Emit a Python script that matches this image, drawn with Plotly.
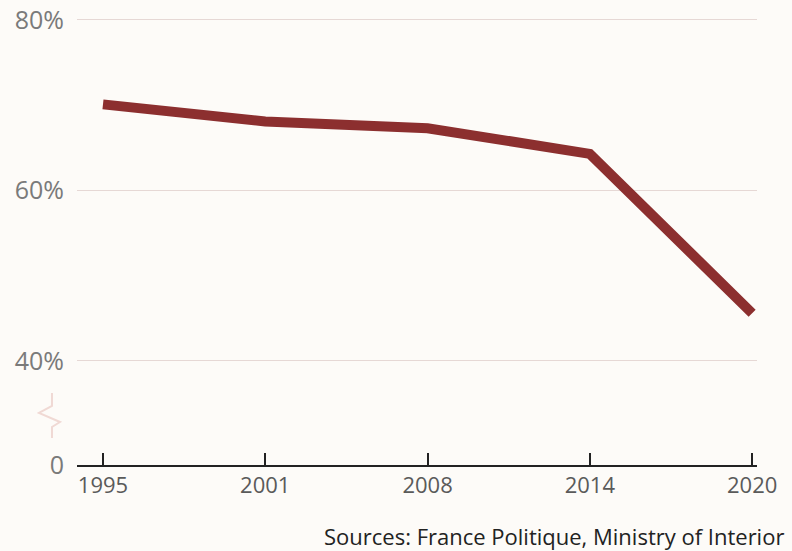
import plotly.graph_objects as go

years = ["1995", "2001", "2008", "2014", "2020"]
turnout = [70.1, 68.1, 67.3, 64.3, 45.6]

axis_floor = 27.8  # position of the broken-axis baseline labelled "0"
y_tickvals = [axis_floor, 40, 60, 80]
y_ticktext = ["0", "40%", "60%", "80%"]

source_text = "Sources: France Politique, Ministry of Interior"

W, H = 792, 551
ml, mr, mt, mb = 77, 35, 17, 86
pw, ph = W - ml - mr, H - mt - mb

def px_to_paper(px, py):
    return (px - ml) / pw, (H - mb - py) / ph

fig = go.Figure()
fig.add_trace(go.Scatter(
    x=list(range(len(years))), y=turnout, mode="lines",
    line=dict(color="#8c2f2f", width=10),
    hoverinfo="skip", showlegend=False,
))

# broken-axis zigzag
pts = [(52, 393), (52, 406), (39, 413), (60, 422), (52, 427), (52, 438)]
path = ""
for i, (a, b) in enumerate(pts):
    xp, yp = px_to_paper(a, b)
    path += ("M" if i == 0 else "L") + f"{xp:.4f},{yp:.4f} "
fig.add_shape(type="path", path=path.strip(), xref="paper", yref="paper",
              line=dict(color="#f0d9d4", width=2))

fig.update_layout(
    width=W, height=H,
    margin=dict(l=ml, r=mr, t=mt, b=mb, autoexpand=False),
    paper_bgcolor="#fdfbf8", plot_bgcolor="#fdfbf8",
    font=dict(family="Open Sans", color="#555555"),
    xaxis=dict(
        range=[-0.16, 4.03], tickvals=list(range(len(years))), ticktext=years,
        showgrid=False, zeroline=False, automargin=False,
        showline=True, linecolor="#222222", linewidth=2,
        ticks="inside", ticklen=12, tickwidth=2, tickcolor="#222222",
        tickfont=dict(size=22, color="#5a5a5a"),
    ),
    yaxis=dict(
        range=[axis_floor, 80.35], tickvals=y_tickvals, ticktext=y_ticktext,
        showgrid=True, gridcolor="#e6d8d5", gridwidth=1,
        zeroline=False, showline=False, ticks="", automargin=False,
        tickfont=dict(size=25, color="#7a7a7a"),
        ticklabelstandoff=12,
    ),
    annotations=[dict(
        text=source_text, xref="paper", yref="paper",
        x=(786 - ml) / pw, y=(H - mb - 536) / ph, xanchor="right", yanchor="middle",
        showarrow=False, font=dict(size=22, color="#222222"),
    )],
)

fig.write_html("out.html", config={"displayModeBar": False},
               post_script="document.body.style.margin='0';document.body.style.overflow='hidden';")
